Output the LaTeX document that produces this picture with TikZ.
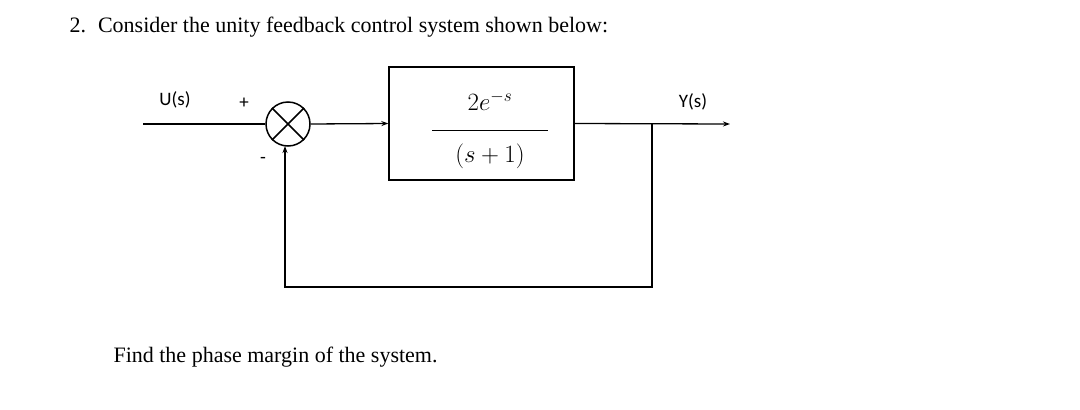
\documentclass[tikz,border=0pt]{standalone}
\usepackage{fontspec}
\setmainfont{Liberation Serif}
\newfontfamily\carlitofont{Carlito}
\usetikzlibrary{arrows.meta}
\begin{document}
\begin{tikzpicture}[x=1pt,y=-1pt,
  wire/.style={line width=1.3pt},
  arr/.style={wire,-{Stealth[length=7pt,width=5pt]}},
  lbl/.style={font=\carlitofont\fontsize{19}{22}\selectfont}]
\useasboundingbox (0,0) rectangle (1080,410);
\node[anchor=west,font=\fontsize{22}{26}\selectfont] (title) at (66,27) {2.\hspace{12pt}Consider the unity feedback control system shown below:};
\node[anchor=west,font=\fontsize{22}{26}\selectfont] (find) at (110,357) {Find the phase margin of the system.};
\node[draw,line width=1.5pt,circle,minimum size=44pt,inner sep=0pt] (sum) at (288,124) {};
\draw[line width=1.5pt] (sum.45)--(sum.225) (sum.135)--(sum.-45);
\node[draw,line width=1.3pt,minimum width=185pt,minimum height=113pt,inner sep=0pt] (G) at (481.5,123.5) {};
\node (num) at (490,101) {\fontsize{26}{30}\selectfont$2e^{-s}$};
\node (den) at (490,156) {\fontsize{26}{30}\selectfont$(s+1)$};
\draw[line width=1pt] (432,130)--(548,130);
\coordinate (in) at (143,124);
\coordinate (out) at (730,124);
\coordinate (br) at (652,124);
\coordinate (c1) at (652,287);
\coordinate (c2) at (285,287);
\draw[wire] (in)--(sum.west);
\draw[arr] (sum.east)--(G.west);
\draw[arr] (G.east)--(out);
\draw[arr] (br)--(c1)--(c2)--(285,146);
\node[lbl] (U) at (175,100) {U(s)};
\node[lbl] (Y) at (693,102) {Y(s)};
\node[lbl] (plus) at (244,103) {+};
\node[lbl] (minus) at (263,160) {-};
\end{tikzpicture}
\end{document}
